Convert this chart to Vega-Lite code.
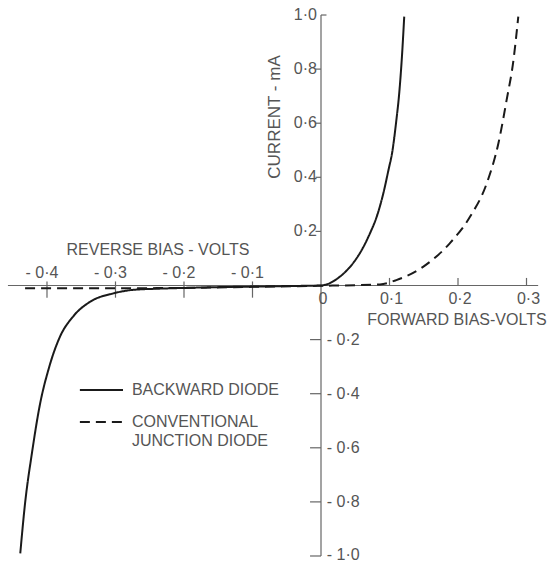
{
  "$schema": "https://vega.github.io/schema/vega-lite/v6.json",
  "width": 550,
  "height": 562,
  "padding": 0,
  "autosize": {"type": "none"},
  "background": "white",
  "config": {"view": {"stroke": null}, "text": {"font": "Liberation Sans", "fill": "#555555"}},
  "datasets": {
    "curves": [
      {"series": "BACKWARD DIODE", "v": -0.439, "i": -0.99},
      {"series": "BACKWARD DIODE", "v": -0.432, "i": -0.805},
      {"series": "BACKWARD DIODE", "v": -0.422, "i": -0.62},
      {"series": "BACKWARD DIODE", "v": -0.41, "i": -0.436},
      {"series": "BACKWARD DIODE", "v": -0.398, "i": -0.312},
      {"series": "BACKWARD DIODE", "v": -0.381, "i": -0.189},
      {"series": "BACKWARD DIODE", "v": -0.362, "i": -0.115},
      {"series": "BACKWARD DIODE", "v": -0.337, "i": -0.06},
      {"series": "BACKWARD DIODE", "v": -0.303, "i": -0.029},
      {"series": "BACKWARD DIODE", "v": -0.274, "i": -0.016},
      {"series": "BACKWARD DIODE", "v": -0.24, "i": -0.012},
      {"series": "BACKWARD DIODE", "v": -0.2, "i": -0.009},
      {"series": "BACKWARD DIODE", "v": -0.15, "i": -0.006},
      {"series": "BACKWARD DIODE", "v": -0.1, "i": -0.004},
      {"series": "BACKWARD DIODE", "v": -0.05, "i": -0.002},
      {"series": "BACKWARD DIODE", "v": 0.0, "i": 0.0},
      {"series": "BACKWARD DIODE", "v": 0.0083, "i": 0.004},
      {"series": "BACKWARD DIODE", "v": 0.0277, "i": 0.033},
      {"series": "BACKWARD DIODE", "v": 0.0448, "i": 0.076},
      {"series": "BACKWARD DIODE", "v": 0.0594, "i": 0.131},
      {"series": "BACKWARD DIODE", "v": 0.0715, "i": 0.193},
      {"series": "BACKWARD DIODE", "v": 0.0813, "i": 0.254},
      {"series": "BACKWARD DIODE", "v": 0.091, "i": 0.341},
      {"series": "BACKWARD DIODE", "v": 0.0985, "i": 0.427},
      {"series": "BACKWARD DIODE", "v": 0.1045, "i": 0.501},
      {"series": "BACKWARD DIODE", "v": 0.1095, "i": 0.6},
      {"series": "BACKWARD DIODE", "v": 0.1145, "i": 0.72},
      {"series": "BACKWARD DIODE", "v": 0.118, "i": 0.84},
      {"series": "BACKWARD DIODE", "v": 0.1215, "i": 0.994},
      {"series": "CONVENTIONAL JUNCTION DIODE", "v": -0.432, "i": -0.01},
      {"series": "CONVENTIONAL JUNCTION DIODE", "v": -0.3, "i": -0.01},
      {"series": "CONVENTIONAL JUNCTION DIODE", "v": -0.2, "i": -0.009},
      {"series": "CONVENTIONAL JUNCTION DIODE", "v": -0.1, "i": -0.005},
      {"series": "CONVENTIONAL JUNCTION DIODE", "v": 0.0, "i": -0.001},
      {"series": "CONVENTIONAL JUNCTION DIODE", "v": 0.05, "i": 0.001},
      {"series": "CONVENTIONAL JUNCTION DIODE", "v": 0.086, "i": 0.004},
      {"series": "CONVENTIONAL JUNCTION DIODE", "v": 0.11, "i": 0.02},
      {"series": "CONVENTIONAL JUNCTION DIODE", "v": 0.149, "i": 0.069},
      {"series": "CONVENTIONAL JUNCTION DIODE", "v": 0.188, "i": 0.156},
      {"series": "CONVENTIONAL JUNCTION DIODE", "v": 0.2175, "i": 0.254},
      {"series": "CONVENTIONAL JUNCTION DIODE", "v": 0.242, "i": 0.378},
      {"series": "CONVENTIONAL JUNCTION DIODE", "v": 0.259, "i": 0.526},
      {"series": "CONVENTIONAL JUNCTION DIODE", "v": 0.271, "i": 0.686},
      {"series": "CONVENTIONAL JUNCTION DIODE", "v": 0.281, "i": 0.834},
      {"series": "CONVENTIONAL JUNCTION DIODE", "v": 0.288, "i": 0.994}
    ],
    "axes": [
      {"v": -0.457, "v2": 0.317, "i": 0, "i2": 0},
      {"v": 0, "v2": 0, "i": -1.0, "i2": 1.0}
    ],
    "negX": [
      {"v": -0.4, "t": "- 0·4"},
      {"v": -0.3, "t": "- 0·3"},
      {"v": -0.2, "t": "- 0·2"},
      {"v": -0.1, "t": "- 0·1"}
    ],
    "posX": [
      {"v": 0.0, "t": "0"},
      {"v": 0.1, "t": "0·1"},
      {"v": 0.2, "t": "0·2"},
      {"v": 0.3, "t": "0·3"}
    ],
    "posY": [
      {"i": 0.2, "t": "0·2"},
      {"i": 0.4, "t": "0·4"},
      {"i": 0.6, "t": "0·6"},
      {"i": 0.8, "t": "0·8"},
      {"i": 1.0, "t": "1·0"}
    ],
    "negY": [
      {"i": -0.2, "t": "- 0·2"},
      {"i": -0.4, "t": "- 0·4"},
      {"i": -0.6, "t": "- 0·6"},
      {"i": -0.8, "t": "- 0·8"},
      {"i": -1.0, "t": "- 1·0"}
    ],
    "titles": [
      {"t": "REVERSE BIAS - VOLTS", "v": -0.238, "i": 0.131},
      {"t": "FORWARD BIAS-VOLTS", "v": 0.1985, "i": -0.1275}
    ],
    "legendLines": [
      {"series": "BACKWARD DIODE", "v": -0.352, "v2": -0.289, "i": -0.386},
      {"series": "CONVENTIONAL JUNCTION DIODE", "v": -0.352, "v2": -0.289, "i": -0.505}
    ],
    "legendText": [
      {"t": "BACKWARD DIODE", "v": -0.276, "i": -0.386},
      {"t": "CONVENTIONAL", "v": -0.276, "i": -0.505},
      {"t": "JUNCTION DIODE", "v": -0.276, "i": -0.575}
    ]
  },
  "layer": [
    {
      "data": {"name": "axes"},
      "mark": {"type": "rule", "color": "#666666", "strokeWidth": 1.2},
      "encoding": {
        "x": {"field": "v", "type": "quantitative", "scale": {"domain": [-0.4686, 0.3343], "nice": false, "zero": false}, "axis": null},
        "x2": {"field": "v2"},
        "y": {"field": "i", "type": "quantitative", "scale": {"domain": [-1.0222, 1.0555], "nice": false, "zero": false}, "axis": null},
        "y2": {"field": "i2"}
      }
    },
    {
      "data": {"name": "negX"},
      "mark": {"type": "rule", "color": "#666666", "strokeWidth": 1.2},
      "encoding": {
        "x": {"field": "v", "type": "quantitative", "scale": {"domain": [-0.4686, 0.3343], "nice": false, "zero": false}, "axis": null},
        "y": {"datum": 0.015, "type": "quantitative", "scale": {"domain": [-1.0222, 1.0555], "nice": false, "zero": false}, "axis": null},
        "y2": {"datum": -0.045}
      }
    },
    {
      "data": {"name": "posX"},
      "transform": [{"filter": "datum.v > 0"}],
      "mark": {"type": "rule", "color": "#666666", "strokeWidth": 1.2},
      "encoding": {
        "x": {"field": "v", "type": "quantitative", "scale": {"domain": [-0.4686, 0.3343], "nice": false, "zero": false}, "axis": null},
        "y": {"datum": 0, "type": "quantitative", "scale": {"domain": [-1.0222, 1.0555], "nice": false, "zero": false}, "axis": null},
        "y2": {"datum": 0.028}
      }
    },
    {
      "data": {"name": "posY"},
      "transform": [{"filter": "datum.i < 1"}],
      "mark": {"type": "rule", "color": "#666666", "strokeWidth": 1.2},
      "encoding": {
        "y": {"field": "i", "type": "quantitative", "scale": {"domain": [-1.0222, 1.0555], "nice": false, "zero": false}, "axis": null},
        "x": {"datum": -0.008, "type": "quantitative", "scale": {"domain": [-0.4686, 0.3343], "nice": false, "zero": false}, "axis": null},
        "x2": {"datum": 0}
      }
    },
    {
      "data": {"values": [{"i": 1.0}]},
      "mark": {"type": "rule", "color": "#666666", "strokeWidth": 1.2},
      "encoding": {
        "y": {"field": "i", "type": "quantitative", "scale": {"domain": [-1.0222, 1.0555], "nice": false, "zero": false}, "axis": null},
        "x": {"datum": 0, "type": "quantitative", "scale": {"domain": [-0.4686, 0.3343], "nice": false, "zero": false}, "axis": null},
        "x2": {"datum": 0.008}
      }
    },
    {
      "data": {"name": "negY"},
      "mark": {"type": "rule", "color": "#666666", "strokeWidth": 1.2},
      "encoding": {
        "y": {"field": "i", "type": "quantitative", "scale": {"domain": [-1.0222, 1.0555], "nice": false, "zero": false}, "axis": null},
        "x": {"datum": -0.016, "type": "quantitative", "scale": {"domain": [-0.4686, 0.3343], "nice": false, "zero": false}, "axis": null},
        "x2": {"datum": 0}
      }
    },
    {
      "data": {"name": "curves"},
      "mark": {"type": "line", "color": "#1a1a1a", "strokeWidth": 2, "interpolate": "monotone"},
      "encoding": {
        "x": {"field": "v", "type": "quantitative", "scale": {"domain": [-0.4686, 0.3343], "nice": false, "zero": false}, "axis": null},
        "y": {"field": "i", "type": "quantitative", "scale": {"domain": [-1.0222, 1.0555], "nice": false, "zero": false}, "axis": null},
        "strokeDash": {"field": "series", "type": "nominal", "scale": {"domain": ["BACKWARD DIODE", "CONVENTIONAL JUNCTION DIODE"], "range": [[1, 0], [10, 6]]}, "legend": null}
      }
    },
    {
      "data": {"name": "legendLines"},
      "mark": {"type": "rule", "color": "#1a1a1a", "strokeWidth": 2},
      "encoding": {
        "x": {"field": "v", "type": "quantitative", "scale": {"domain": [-0.4686, 0.3343], "nice": false, "zero": false}, "axis": null},
        "x2": {"field": "v2"},
        "y": {"field": "i", "type": "quantitative", "scale": {"domain": [-1.0222, 1.0555], "nice": false, "zero": false}, "axis": null},
        "strokeDash": {"field": "series", "type": "nominal", "scale": {"domain": ["BACKWARD DIODE", "CONVENTIONAL JUNCTION DIODE"], "range": [[1, 0], [10, 6]]}, "legend": null}
      }
    },
    {
      "data": {"name": "negX"},
      "mark": {"type": "text", "fontSize": 16, "align": "center", "baseline": "middle", "dx": -5},
      "encoding": {
        "x": {"field": "v", "type": "quantitative", "scale": {"domain": [-0.4686, 0.3343], "nice": false, "zero": false}, "axis": null},
        "y": {"datum": 0.046, "type": "quantitative", "scale": {"domain": [-1.0222, 1.0555], "nice": false, "zero": false}, "axis": null},
        "text": {"field": "t"}
      }
    },
    {
      "data": {"name": "posX"},
      "mark": {"type": "text", "fontSize": 16, "align": "center", "baseline": "middle", "dx": 2},
      "encoding": {
        "x": {"field": "v", "type": "quantitative", "scale": {"domain": [-0.4686, 0.3343], "nice": false, "zero": false}, "axis": null},
        "y": {"datum": -0.05, "type": "quantitative", "scale": {"domain": [-1.0222, 1.0555], "nice": false, "zero": false}, "axis": null},
        "text": {"field": "t"}
      }
    },
    {
      "data": {"name": "posY"},
      "mark": {"type": "text", "fontSize": 16, "align": "right", "baseline": "middle"},
      "encoding": {
        "y": {"field": "i", "type": "quantitative", "scale": {"domain": [-1.0222, 1.0555], "nice": false, "zero": false}, "axis": null},
        "x": {"datum": -0.006, "type": "quantitative", "scale": {"domain": [-0.4686, 0.3343], "nice": false, "zero": false}, "axis": null},
        "text": {"field": "t"}
      }
    },
    {
      "data": {"name": "negY"},
      "transform": [{"filter": "datum.i > -1"}],
      "mark": {"type": "text", "fontSize": 16, "align": "left", "baseline": "middle"},
      "encoding": {
        "y": {"field": "i", "type": "quantitative", "scale": {"domain": [-1.0222, 1.0555], "nice": false, "zero": false}, "axis": null},
        "x": {"datum": 0.0085, "type": "quantitative", "scale": {"domain": [-0.4686, 0.3343], "nice": false, "zero": false}, "axis": null},
        "text": {"field": "t"}
      }
    },
    {
      "data": {"name": "negY"},
      "transform": [{"filter": "datum.i <= -1"}],
      "mark": {"type": "text", "fontSize": 16, "align": "left", "baseline": "alphabetic", "dy": 4},
      "encoding": {
        "y": {"field": "i", "type": "quantitative", "scale": {"domain": [-1.0222, 1.0555], "nice": false, "zero": false}, "axis": null},
        "x": {"datum": 0.0085, "type": "quantitative", "scale": {"domain": [-0.4686, 0.3343], "nice": false, "zero": false}, "axis": null},
        "text": {"field": "t"}
      }
    },
    {
      "data": {"name": "titles"},
      "mark": {"type": "text", "fontSize": 16, "align": "center", "baseline": "middle"},
      "encoding": {
        "x": {"field": "v", "type": "quantitative", "scale": {"domain": [-0.4686, 0.3343], "nice": false, "zero": false}, "axis": null},
        "y": {"field": "i", "type": "quantitative", "scale": {"domain": [-1.0222, 1.0555], "nice": false, "zero": false}, "axis": null},
        "text": {"field": "t"}
      }
    },
    {
      "data": {"values": [{"t": "CURRENT - mA", "v": -0.067, "i": 0.623}]},
      "mark": {"type": "text", "fontSize": 17, "align": "center", "baseline": "middle", "angle": 270},
      "encoding": {
        "x": {"field": "v", "type": "quantitative", "scale": {"domain": [-0.4686, 0.3343], "nice": false, "zero": false}, "axis": null},
        "y": {"field": "i", "type": "quantitative", "scale": {"domain": [-1.0222, 1.0555], "nice": false, "zero": false}, "axis": null},
        "text": {"field": "t"}
      }
    },
    {
      "data": {"name": "legendText"},
      "mark": {"type": "text", "fontSize": 16, "align": "left", "baseline": "middle"},
      "encoding": {
        "x": {"field": "v", "type": "quantitative", "scale": {"domain": [-0.4686, 0.3343], "nice": false, "zero": false}, "axis": null},
        "y": {"field": "i", "type": "quantitative", "scale": {"domain": [-1.0222, 1.0555], "nice": false, "zero": false}, "axis": null},
        "text": {"field": "t"}
      }
    }
  ]
}
